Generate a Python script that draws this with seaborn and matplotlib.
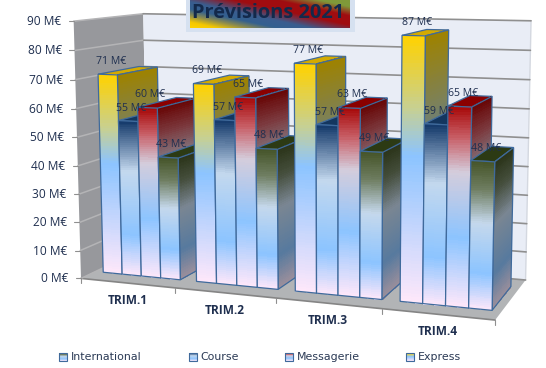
import matplotlib
matplotlib.use("Agg")
import matplotlib.pyplot as plt
from matplotlib.colors import LinearSegmentedColormap, to_rgb
from matplotlib.patches import Polygon, Rectangle
import seaborn as sns
import pandas as pd
import numpy as np

# Donnees du graphique
trimestres = ["TRIM.1", "TRIM.2", "TRIM.3", "TRIM.4"]
express = [71, 69, 77, 87]
course = [55, 57, 57, 59]
messagerie = [60, 65, 63, 65]
international = [43, 48, 49, 48]
graduations = [0, 10, 20, 30, 40, 50, 60, 70, 80, 90]
titre = "Prévisions 2021"

sns.set_theme(style="white")
plt.rcParams["font.family"] = ["Open Sans", "DejaVu Sans"]

df = pd.DataFrame({
    "Trimestre": trimestres * 4,
    "Serie": ["Express"] * 4 + ["Course"] * 4 + ["Messagerie"] * 4 + ["International"] * 4,
    "Valeur": express + course + messagerie + international,
})

W, H = 546, 368
fig = plt.figure(figsize=(W / 100, H / 100), dpi=100)

# seaborn calcule les barres, on les reprojette ensuite en perspective
ax_bars = fig.add_axes([0, 0, 1, 1])
sns.barplot(data=df, x="Trimestre", y="Valeur", hue="Serie", gap=0, width=0.83,
            errorbar=None, ax=ax_bars)
bars = {}
for cont, nom in zip(ax_bars.containers, ["Express", "Course", "Messagerie", "International"]):
    bars[nom] = [(b.get_x() + 0.5, b.get_width(), b.get_height()) for b in cont]
ax_bars.set_visible(False)

ax = fig.add_axes([0, 0, 1, 1])
ax.set_xlim(0, W)
ax.set_ylim(H, 0)
ax.axis("off")

# Calage de la perspective: coins du cadre (x categorie, profondeur, valeur) -> pixels
monde = np.array([[0, 0, 0], [0, 0, 90], [0, 1, 0], [0, 1, 90],
                  [4, 0, 0], [4, 1, 0], [4, 1, 90], [4, 0, 90]], float)
pixels = np.array([[82, 278], [73, 20.7], [147, 247], [144, 14],
                   [496, 321], [525, 279], [532, 21], [499, 30]], float)
A = []
for (x, y, z), (u, v) in zip(monde, pixels):
    A.append([x, y, z, 1, 0, 0, 0, 0, -u * x, -u * y, -u * z, -u])
    A.append([0, 0, 0, 0, x, y, z, 1, -v * x, -v * y, -v * z, -v])
P = np.linalg.svd(np.array(A))[2][-1].reshape(3, 4)


def proj(x, y, z):
    q = P @ np.array([x, y, z, 1.0])
    return q[0] / q[2], q[1] / q[2]


def poly(pts, **kw):
    ax.add_patch(Polygon([proj(*p) for p in pts], closed=True, **kw))


def cmap_de(stops):
    return LinearSegmentedColormap.from_list("g", stops, N=256)


def sombre(stops, k):
    return [(f, tuple(k * c for c in to_rgb(col))) for f, col in stops]


ROSE = "#ffe8fa"
BLEU = "#8cc4ff"
degrades = {
    "Express": [(0, ROSE), (0.56, BLEU), (0.74, "#c8d090"), (1, "#ffd200")],
    "Course": [(0, ROSE), (0.27, BLEU), (0.68, "#c3d8ee"), (1, "#153a6b")],
    "Messagerie": [(0, ROSE), (0.35, BLEU), (0.68, "#d4cddc"), (0.85, "#c86068"), (1, "#a80a0a")],
    "International": [(0, ROSE), (0.25, BLEU), (0.59, "#c5d8ec"), (0.82, "#6e7d60"), (1, "#46552a")],
}
dessus = {"Express": "#d4aa00", "Course": "#14365f", "Messagerie": "#8a0000", "International": "#2c3a14"}
BORD = "#3f6a9c"

# Murs et sol
poly([(0, 0, 0), (0, 1, 0), (0, 1, 90), (0, 0, 90)], fc="#97989c", ec="none", zorder=1)
poly([(0, 1, 0), (4, 1, 0), (4, 1, 90), (0, 1, 90)], fc="#e9edf6", ec="none", zorder=1)
poly([(0, 0, 0), (4, 0, 0), (4, 1, 0), (0, 1, 0)], fc="#b2b4b6", ec="none", zorder=1)
ax.plot(*zip(proj(0, 0, 0), proj(4, 0, 0)), color="#858585", lw=1.2, zorder=2)
ax.plot(*zip(proj(4, 1, 0), proj(4, 1, 90)), color="#d4d8e0", lw=1, zorder=2)

for g in graduations:
    ax.plot(*zip(proj(0, 0, g), proj(0, 1, g)), color="#b4b4b6", lw=1.1, zorder=2)
    ax.plot(*zip(proj(0, 1, g), proj(4, 1, g)), color="#8f8f8f", lw=1.2, zorder=2)
    x0, y0 = proj(0, 0, g)
    ax.plot([x0 - 5, x0], [y0, y0], color="#8f8f8f", lw=0.8, zorder=2)
    ax.text(x0 - 12.5, y0 + 0.5, f"{g} M€", ha="right", va="center", fontsize=8.6, color="#1f2f4f")

for i in range(5):
    x0, y0 = proj(i, 0, 0)
    ax.plot([x0, x0], [y0, y0 + 5], color="#8f8f8f", lw=0.8, zorder=2)

for i, t in enumerate(trimestres):
    x0, y0 = proj(i + 0.5, 0, 0)
    ax.text(x0, y0 + 17.5, t, ha="center", va="center", fontsize=8.6, fontweight="bold", color="#1f2f4f")

# Barres, de gauche a droite
D0, D1 = 0.2, 0.8
N = 80
labels = []
z = 3.0
for i in range(len(trimestres)):
    for nom in ["Express", "Course", "Messagerie", "International"]:
        x, w, h = bars[nom][i]
        stops = degrades[nom]
        fr = np.linspace(0, 1, N + 1)
        C = ((fr[:-1] + fr[1:]) / 2).reshape(-1, 1)

        poly([(x, D0, h), (x + w, D0, h), (x + w, D1, h), (x, D1, h)], fc=dessus[nom], ec=BORD, lw=0.9, zorder=z)

        X = np.zeros((N + 1, 2))
        Y = np.zeros((N + 1, 2))
        for k, f in enumerate(fr):
            X[k, 0], Y[k, 0] = proj(x + w, D0, f * h)
            X[k, 1], Y[k, 1] = proj(x + w, D1, f * h)
        ax.pcolormesh(X, Y, C, cmap=cmap_de(sombre(stops, 0.62)), vmin=0, vmax=1,
                      shading="flat", antialiased=False, linewidth=0, zorder=z + 0.1)
        poly([(x + w, D0, 0), (x + w, D1, 0), (x + w, D1, h), (x + w, D0, h)], fc="none", ec=BORD, lw=0.9, zorder=z + 0.2)

        for k, f in enumerate(fr):
            X[k, 0], Y[k, 0] = proj(x, D0, f * h)
            X[k, 1], Y[k, 1] = proj(x + w, D0, f * h)
        ax.pcolormesh(X, Y, C, cmap=cmap_de(stops), vmin=0, vmax=1,
                      shading="flat", antialiased=False, linewidth=0, zorder=z + 0.3)
        poly([(x, D0, 0), (x + w, D0, 0), (x + w, D0, h), (x, D0, h)], fc="none", ec=BORD, lw=0.9, zorder=z + 0.4)
        z += 1

        lx, ly = proj(x + w / 2, D0, h)
        labels.append((lx + 3, ly - 13, f"{h:.0f} M€"))

for lx, ly, s in labels:
    ax.text(lx, ly, s, ha="center", va="center", fontsize=7.6, color="#1f2f4f", zorder=50)

# Titre
ax.add_patch(Rectangle((186, -1), 169, 33, fc="#d6e1f0", ec="none", zorder=51))
nx, ny = 320, 56
xx, yy = np.meshgrid(np.linspace(0, 160, nx), np.linspace(0, 28, ny))
t = (0.22 * xx + (28 - yy)) / (0.22 * 160 + 28)
cm_titre = cmap_de([(0, "#ffd200"), (0.09, "#f5c800"), (0.2, "#8a8a50"), (0.3, "#33608f"),
                    (0.42, "#3a5d8f"), (0.6, "#a00c10"), (0.75, "#a00c10"), (0.9, "#7f9a3a"), (1, "#7f9a3a")])
ax.imshow(t, extent=(190, 350, 28, 0), cmap=cm_titre, vmin=0, vmax=1, aspect="auto", zorder=52)
ax.text(268, 13.5, titre, ha="center", va="center", fontsize=14.4, fontweight="bold", color="#13294b", zorder=53)

# Legende
legende = [("International", 59, 71), ("Course", 189, 200), ("Messagerie", 285, 297), ("Express", 406, 418)]
grad = np.linspace(1, 0, 32).reshape(-1, 1)
for nom, xs, xt in legende:
    ax.imshow(grad, extent=(xs, xs + 8, 361, 353), cmap=cmap_de(degrades[nom]), vmin=0, vmax=1, aspect="auto", zorder=3)
    ax.add_patch(Rectangle((xs, 353), 8, 8, fc="none", ec=BORD, lw=0.8, zorder=4))
    ax.text(xt, 357.3, nom, ha="left", va="center", fontsize=7.9, family="DejaVu Sans", color="#2b3a55")
ax.set_xlim(0, W)
ax.set_ylim(H, 0)

fig.savefig("out.png", dpi=100)
